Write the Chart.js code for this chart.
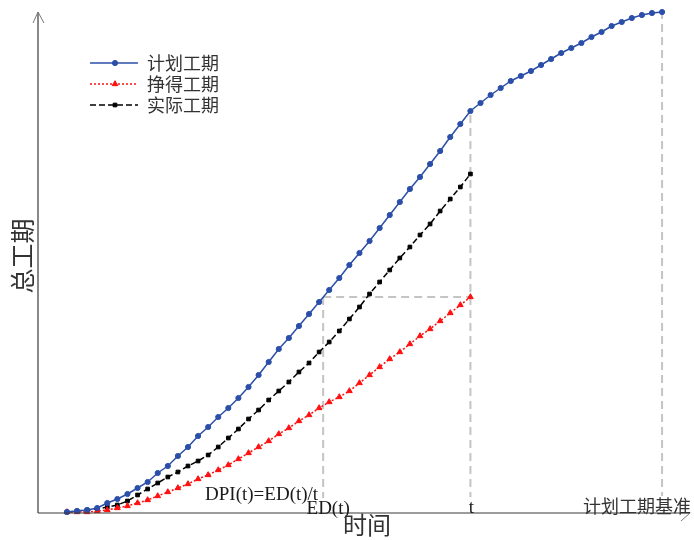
<!DOCTYPE html>
<html lang="zh">
<head>
<meta charset="UTF-8">
<title>工期曲线</title>
<script src="https://cdn.jsdelivr.net/npm/chart.js"></script>
<style>
    html, body { margin: 0; padding: 0; background: #fff; }
    #wrap { width: 694px; height: 540px; }
</style>
</head>
<body>
<div id="wrap"><canvas id="myChart"></canvas></div>
<script>
// series (value 0 = time axis)
const seriesNames = ['计划工期', '挣得工期', '实际工期'];
const planned = [1, 2, 3, 5, 10, 14, 19, 25, 31, 40, 47, 57, 66, 77, 86, 96, 105, 115, 126, 138,
    151, 164, 175, 187, 199, 211, 223, 235, 248, 260, 272, 285, 298, 311, 324, 336, 349, 362, 376, 389,
    402, 410, 418, 425, 432, 437, 442, 448, 454, 460, 465, 470, 476, 481, 487, 491, 495, 498, 500, 501];
const earned = [1, 1, 1, 2, 3, 5, 7, 10, 13, 17, 21, 25, 29, 34, 38, 43, 48, 54, 60, 66,
    72, 79, 85, 92, 98, 105, 111, 116, 122, 130, 138, 146, 154, 161, 169, 177, 184, 192, 200, 208, 216];
const actual = [1, 2, 3, 4, 6, 8, 12, 18, 24, 30, 36, 41, 47, 52, 58, 66, 75, 84, 94, 103,
    113, 122, 131, 141, 150, 161, 171, 182, 194, 206, 219, 231, 243, 255, 266, 278, 289, 302, 314, 326, 339];

const tNow = 40;      // t
const edT = 25.4;     // ED(t)
const planEnd = 59;   // 计划工期基准
const xRange = [-2.87, 61.67];
const yRange = [0, 501];

const xTitle = '时间';
const yTitle = '总工期';
const dpiLabel = 'DPI(t)=ED(t)/t';
const edLabel = 'ED(t)';
const tLabel = 't';
const baseLabel = '计划工期基准';

const toXY = arr => arr.map((v, i) => ({ x: i, y: v }));

const guideStyle = {
    borderColor: '#c4c4c4',
    borderWidth: 2,
    borderDash: [8, 5],
    pointRadius: 0,
    fill: false,
    order: 10
};

const styles = [
    { color: '#2b4fa8', dash: [], point: 'circle', r: 2.6 },
    { color: '#ff1010', dash: [2, 2], point: 'triangle', r: 3.3 },
    { color: '#000000', dash: [6, 3], point: 'rect', r: 2.6 }
];

const cjk = '"Noto Sans CJK SC", sans-serif';
const serif = '"Liberation Serif", "DejaVu Serif", serif';

const decor = {
    id: 'decor',
    afterDraw(chart) {
        const ctx = chart.ctx;
        const a = chart.chartArea;
        const xs = chart.scales.x;
        const y0 = a.bottom;

        // white backing under the bottom labels
        ctx.save();
        ctx.fillStyle = '#fff';
        ctx.fillRect(xs.getPixelForValue(edT) - 20, 498, 45, y0 - 498);
        ctx.fillRect(xs.getPixelForValue(tNow) - 6, 497, 12, y0 - 497);
        ctx.fillRect(583, 496, 108, y0 - 496);
        ctx.restore();

        // axes with arrows
        ctx.save();
        ctx.strokeStyle = '#3a3a3a';
        ctx.lineWidth = 1.2;
        ctx.beginPath();
        ctx.moveTo(a.left, y0);
        ctx.lineTo(a.left, a.top);
        ctx.moveTo(a.left, y0);
        ctx.lineTo(a.right, y0);
        ctx.stroke();
        ctx.strokeStyle = '#777';
        ctx.lineWidth = 1;
        ctx.beginPath();
        ctx.moveTo(a.left - 5, a.top + 11);
        ctx.lineTo(a.left, a.top);
        ctx.lineTo(a.left + 6, a.top + 11);
        ctx.moveTo(a.right - 8, y0 + 8);
        ctx.lineTo(a.right + 1, y0);
        ctx.stroke();
        ctx.restore();

        // texts
        ctx.save();
        ctx.fillStyle = '#1a1a1a';
        ctx.textBaseline = 'alphabetic';
        ctx.font = '19px ' + serif;
        ctx.textAlign = 'right';
        ctx.fillText(dpiLabel, xs.getPixelForValue(edT) - 5, 500);
        ctx.textAlign = 'center';
        ctx.fillText(edLabel, xs.getPixelForValue(edT) + 5, 514);
        ctx.fillText(tLabel, xs.getPixelForValue(tNow) + 1, 513);

        ctx.font = '18px ' + cjk;
        ctx.textAlign = 'left';
        ctx.textBaseline = 'middle';
        ctx.fillStyle = '#333';
        ctx.fillText(baseLabel, 583, 506);

        ctx.font = '24px ' + cjk;
        ctx.textAlign = 'center';
        ctx.fillText(xTitle, 367, 525);
        ctx.save();
        ctx.translate(22, 256);
        ctx.rotate(-Math.PI / 2);
        ctx.font = '25px ' + cjk;
        ctx.fillText(yTitle, 0, 0);
        ctx.restore();

        // legend
        const rows = [63, 84, 105];
        seriesNames.forEach((name, k) => {
            const s = styles[k];
            const y = rows[k];
            ctx.save();
            ctx.strokeStyle = s.color;
            ctx.lineWidth = 1.5;
            ctx.setLineDash(s.dash);
            ctx.beginPath();
            ctx.moveTo(90, y);
            ctx.lineTo(138, y);
            ctx.stroke();
            ctx.setLineDash([]);
            ctx.fillStyle = s.color;
            ctx.lineWidth = 1;
            Chart.helpers.drawPoint(ctx, {
                pointStyle: s.point, radius: s.r, borderWidth: 1, rotation: 0
            }, 115, y);
            ctx.restore();
            ctx.fillStyle = '#333';
            ctx.font = '18px ' + cjk;
            ctx.textAlign = 'left';
            ctx.textBaseline = 'middle';
            ctx.fillText(name, 147, y);
        });
        ctx.restore();
    }
};

const seriesData = [planned, earned, actual];
const datasets = seriesData.map((arr, k) => ({
    label: seriesNames[k],
    data: toXY(arr),
    borderColor: styles[k].color,
    backgroundColor: styles[k].color,
    borderWidth: 1.5,
    borderDash: styles[k].dash,
    pointStyle: styles[k].point,
    pointRadius: styles[k].r,
    pointBorderWidth: 1,
    pointBackgroundColor: styles[k].color,
    pointBorderColor: styles[k].color,
    tension: 0,
    fill: false,
    clip: false,
    order: k
}));

datasets.push(Object.assign({ label: 'g1', data: [{ x: edT, y: earned[tNow] }, { x: tNow, y: earned[tNow] }] }, guideStyle));
datasets.push(Object.assign({ label: 'g2', data: [{ x: edT, y: 0 }, { x: edT, y: earned[tNow] }] }, guideStyle));
datasets.push(Object.assign({ label: 'g3', data: [{ x: tNow, y: 0 }, { x: tNow, y: planned[tNow] }] }, guideStyle));
datasets.push(Object.assign({ label: 'g4', data: [{ x: planEnd, y: 0 }, { x: planEnd, y: planned[planEnd] }] }, guideStyle));

const ctx = document.getElementById('myChart').getContext('2d');
new Chart(ctx, {
    type: 'line',
    data: { datasets },
    options: {
        responsive: true,
        maintainAspectRatio: false,
        animation: false,
        events: [],
        layout: { padding: { left: 38, right: 4, top: 12, bottom: 27 } },
        plugins: { legend: { display: false }, tooltip: { enabled: false } },
        scales: {
            x: { type: 'linear', min: xRange[0], max: xRange[1], display: false },
            y: { type: 'linear', min: yRange[0], max: yRange[1], display: false }
        }
    },
    plugins: [decor]
});
</script>
</body>
</html>
